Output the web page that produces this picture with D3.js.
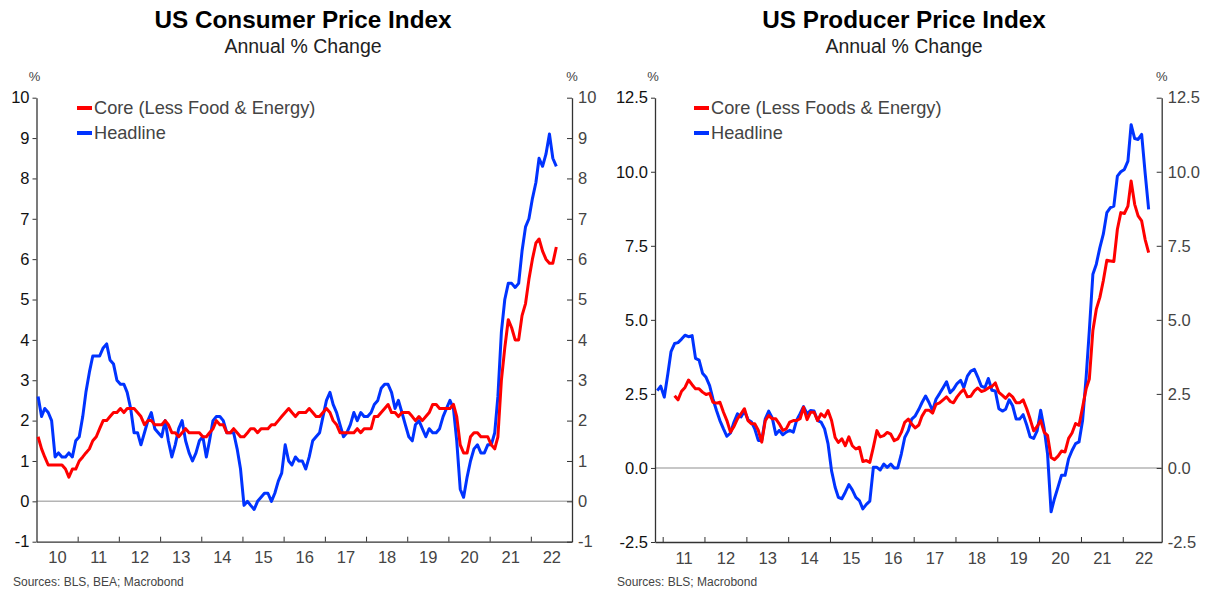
<!DOCTYPE html>
<html>
<head>
<meta charset="utf-8">
<script src="https://cdn.jsdelivr.net/npm/d3@7"></script>
<style>
  body { margin: 0; background: #fff; }
  svg text { font-family: "Liberation Sans", Arial, sans-serif; }
</style>
</head>
<body>
<div id="chart"></div>
<script>
// CPI, monthly yoy %, Jan 2010 - Aug 2022
const cpiStart = "2010-01";
const cpiHeadline = [
  2.6, 2.1, 2.3, 2.2, 2.0, 1.1, 1.2, 1.1, 1.1, 1.2, 1.1, 1.5,
  1.6, 2.1, 2.7, 3.2, 3.6, 3.6, 3.6, 3.8, 3.9, 3.5, 3.4, 3.0,
  2.9, 2.9, 2.7, 2.3, 1.7, 1.7, 1.4, 1.7, 2.0, 2.2, 1.8, 1.7,
  1.6, 2.0, 1.5, 1.1, 1.4, 1.8, 2.0, 1.5, 1.2, 1.0, 1.2, 1.5,
  1.6, 1.1, 1.5, 2.0, 2.1, 2.1, 2.0, 1.7, 1.7, 1.7, 1.3, 0.8,
  -0.1, 0.0, -0.1, -0.2, 0.0, 0.1, 0.2, 0.2, 0.0, 0.2, 0.5, 0.7,
  1.4, 1.0, 0.9, 1.1, 1.0, 1.0, 0.8, 1.1, 1.5, 1.6, 1.7, 2.1,
  2.5, 2.7, 2.4, 2.2, 1.9, 1.6, 1.7, 1.9, 2.2, 2.0, 2.2, 2.1,
  2.1, 2.2, 2.4, 2.5, 2.8, 2.9, 2.9, 2.7, 2.3, 2.5, 2.2, 1.9,
  1.6, 1.5, 1.9, 2.0, 1.8, 1.6, 1.8, 1.7, 1.7, 1.8, 2.1, 2.3,
  2.5, 2.3, 1.5, 0.3, 0.1, 0.6, 1.0, 1.3, 1.4, 1.2, 1.2, 1.4,
  1.4, 1.7, 2.6, 4.2, 5.0, 5.4, 5.4, 5.3, 5.4, 6.2, 6.8, 7.0,
  7.5, 7.9, 8.5, 8.3, 8.6, 9.1, 8.5, 8.3
];
const cpiCore = [
  1.6, 1.3, 1.1, 0.9, 0.9, 0.9, 0.9, 0.9, 0.8, 0.6, 0.8, 0.8,
  1.0, 1.1, 1.2, 1.3, 1.5, 1.6, 1.8, 2.0, 2.0, 2.1, 2.2, 2.2,
  2.3, 2.2, 2.3, 2.3, 2.3, 2.2, 2.1, 1.9, 2.0, 2.0, 1.9, 1.9,
  1.9, 2.0, 1.9, 1.7, 1.7, 1.6, 1.7, 1.8, 1.7, 1.7, 1.7, 1.7,
  1.6, 1.6, 1.7, 1.8, 2.0, 1.9, 1.9, 1.7, 1.7, 1.8, 1.7, 1.6,
  1.6, 1.7, 1.8, 1.8, 1.7, 1.8, 1.8, 1.8, 1.9, 1.9, 2.0, 2.1,
  2.2, 2.3, 2.2, 2.1, 2.2, 2.2, 2.2, 2.3, 2.2, 2.1, 2.1, 2.2,
  2.3, 2.2, 2.0, 1.9, 1.7, 1.7, 1.7, 1.7, 1.7, 1.8, 1.7, 1.8,
  1.8, 1.8, 2.1, 2.1, 2.2, 2.3, 2.4, 2.2, 2.2, 2.1, 2.2, 2.2,
  2.2, 2.1, 2.0, 2.1, 2.0, 2.1, 2.2, 2.4, 2.4, 2.3, 2.3, 2.3,
  2.3, 2.4, 2.1, 1.4, 1.2, 1.2, 1.6, 1.7, 1.7, 1.6, 1.6, 1.6,
  1.4, 1.3, 1.6, 3.0, 3.8, 4.5, 4.3, 4.0, 4.0, 4.6, 4.9, 5.5,
  6.0, 6.4, 6.5, 6.2, 6.0, 5.9, 5.9, 6.3
];

// PPI final demand, monthly yoy %
const ppiHeadlineStart = "2010-11";
const ppiHeadline = [
  2.61, 2.76,
  2.39, 3.17, 3.93, 4.2, 4.23, 4.35, 4.48, 4.43, 4.47, 3.7, 3.64, 3.2,
  3.06, 2.78, 2.33, 1.94, 1.6, 1.32, 1.07, 1.18, 1.55, 1.83, 1.72, 1.92,
  1.63, 1.55, 1.32, 0.93, 0.93, 1.66, 1.92, 1.69, 1.13, 1.27, 1.12, 1.21,
  1.27, 1.21, 1.6, 1.83, 2.07, 1.83, 1.94, 1.92, 1.6, 1.55, 1.32, 0.82,
  -0.1, -0.65, -0.99, -1.04, -0.82, -0.56, -0.74, -0.99, -1.1, -1.38, -1.23, -1.12,
  0.02, 0.02, -0.07, 0.13, 0.02, 0.13, 0.0, 0.0, 0.47, 1.03, 1.26, 1.65,
  1.76, 1.98, 2.21, 2.43, 2.21, 1.93, 2.32, 2.51, 2.71, 2.91, 2.54, 2.66,
  2.85, 2.96, 2.71, 3.1, 3.27, 3.33, 3.07, 2.76, 2.71, 3.02, 2.62, 2.6,
  2.0, 1.92, 1.98, 2.3, 2.1, 1.65, 1.65, 1.8, 1.45, 1.05, 1.0, 1.25,
  1.95, 1.32, 0.48, -1.48, -1.03, -0.64, -0.25, -0.25, 0.31, 0.59, 0.82, 0.88,
  1.6, 3.06, 4.64, 6.54, 6.88, 7.44, 7.89, 8.62, 8.79, 8.84, 9.85, 10.0,
  10.08, 10.36, 11.59, 11.12, 11.09, 11.26, 9.97, 8.73
];
const ppiCoreStart = "2011-04";
const ppiCore = [
  2.44, 2.3, 2.59, 2.72, 2.97, 2.81, 2.67, 2.67, 2.56,
  2.48, 2.52, 2.22, 2.19, 2.22, 1.88, 1.6, 1.21, 1.4, 1.66, 1.83, 2.0,
  1.6, 1.49, 1.49, 1.27, 0.87, 1.6, 1.77, 1.66, 1.66, 1.49, 1.27, 1.32,
  1.55, 1.6, 1.6, 1.66, 2.05, 1.63, 1.88, 1.88, 1.6, 1.83, 1.72, 1.94,
  1.6, 1.03, 0.86, 0.98, 0.75, 1.05, 0.75, 0.64, 0.7, 0.22, 0.25, 0.19,
  0.7, 1.26, 1.05, 1.09, 1.2, 1.14, 0.92, 0.98, 1.2, 1.54, 1.65, 1.48,
  1.35, 1.45, 1.75, 1.95, 1.95, 1.85, 2.15, 2.2, 2.3, 2.4, 2.25, 2.2,
  2.4, 2.55, 2.65, 2.4, 2.42, 2.6, 2.7, 2.58, 2.62, 2.7, 2.75, 2.87,
  2.55, 2.45, 2.35, 2.5, 2.4, 2.2, 2.2, 2.3, 2.0, 1.65, 1.25, 1.4,
  1.6, 1.2, 1.1, 0.35, 0.28, 0.4, 0.57, 0.54, 1.0, 1.18, 1.5, 1.44,
  2.05, 2.67, 3.0, 4.64, 5.36, 5.76, 6.32, 7.01, 6.99, 6.97, 8.06, 8.62,
  8.59, 8.84, 9.69, 8.9, 8.51, 8.34, 7.72, 7.27
];

const cpiTicks = [-1, 0, 1, 2, 3, 4, 5, 6, 7, 8, 9, 10];
const ppiTicks = [-2.5, 0, 2.5, 5, 7.5, 10, 12.5];
const seriesNames = ["Core (Less Food & Energy)", "Headline"];
const ppiSeriesNames = ["Core (Less Foods & Energy)", "Headline"];

const RED = "#ff0000", BLUE = "#0033ff";

// monthly points plotted at mid-month
const parseM = d3.timeParse("%Y-%m");
function toSeries(start, values) {
  const s = parseM(start);
  return values.map((v, i) => ({date: d3.timeDay.offset(d3.timeMonth.offset(s, i), 14), value: v}));
}
// plain hyphen for negatives, like the original
const hyphen = f => (d => f(d).replace("\u2212", "-"));

const svg = d3.select("#chart").append("svg")
  .attr("width", 1210).attr("height", 590);

function panel(cfg) {
  const g = svg.append("g");
  const x = d3.scaleTime().domain(cfg.xDomain).range([cfg.left, cfg.right]);
  const y = d3.scaleLinear().domain(cfg.yDomain).range([cfg.bottom, cfg.top]);

  // titles
  g.append("text").attr("x", cfg.titleX).attr("y", 28)
    .attr("text-anchor", "middle").attr("font-size", 24.3).attr("font-weight", "bold")
    .attr("fill", "#000").text(cfg.title);
  g.append("text").attr("x", cfg.titleX).attr("y", 53)
    .attr("text-anchor", "middle").attr("font-size", 19.5).attr("fill", "#222")
    .text("Annual % Change");

  // % labels
  g.append("text").attr("x", cfg.left - 2).attr("y", 81).attr("text-anchor", "middle")
    .attr("font-size", 13).attr("fill", "#444").text("%");
  g.append("text").attr("x", cfg.right).attr("y", 81).attr("text-anchor", "middle")
    .attr("font-size", 13).attr("fill", "#444").text("%");

  // zero line
  g.append("line").attr("x1", cfg.left).attr("x2", cfg.right)
    .attr("y1", y(0)).attr("y2", y(0))
    .attr("stroke", "#b4b4b4").attr("stroke-width", 1.5);

  // left y axis
  const yl = g.append("g").attr("transform", `translate(${cfg.left},0)`)
    .call(d3.axisLeft(y).tickValues(cfg.yTicks).tickFormat(hyphen(cfg.fmt)).tickSizeInner(4).tickSizeOuter(0).tickPadding(3));
  yl.select(".domain").attr("stroke", "#333").attr("stroke-width", 1.3);
  yl.selectAll(".tick line").attr("stroke", "#333");
  yl.selectAll("text").attr("font-size", 16.5).attr("fill", "#111")
    .style("font-family", "Liberation Sans, Arial, sans-serif");

  // right y axis, ticks pointing inward
  const yr = g.append("g").attr("transform", `translate(${cfg.right},0)`)
    .call(d3.axisRight(y).tickValues(cfg.yTicks).tickFormat(hyphen(cfg.fmt)).tickSizeInner(-5).tickSizeOuter(0).tickPadding(6));
  yr.select(".domain").attr("stroke", "#333").attr("stroke-width", 1.3);
  yr.selectAll(".tick line").attr("stroke", "#333");
  yr.selectAll("text").attr("font-size", 16.5).attr("fill", "#444")
    .style("font-family", "Liberation Sans, Arial, sans-serif");

  // x axis: year boundary ticks pointing up, labels mid-year
  const years = d3.range(cfg.firstYear, 2023);
  const bounds = years.map(yy => new Date(yy, 0, 1)).filter(d => x(d) > cfg.left + 1 && x(d) < cfg.right - 1);
  const xb = g.append("g").attr("transform", `translate(0,${cfg.bottom})`)
    .call(d3.axisBottom(x).tickValues(bounds).tickFormat("").tickSizeInner(-5).tickSizeOuter(0));
  xb.select(".domain").attr("stroke", "#333").attr("stroke-width", 1.3);
  xb.selectAll(".tick line").attr("stroke", "#333");
  const xl = g.append("g").attr("transform", `translate(0,${cfg.bottom})`)
    .call(d3.axisBottom(x).tickValues(years.map(yy => new Date(yy, 6, 2)))
      .tickFormat(d3.timeFormat("%y")).tickSize(0).tickPadding(10));
  xl.select(".domain").remove();
  xl.selectAll("text").attr("font-size", 16.5).attr("fill", "#444")
    .style("font-family", "Liberation Sans, Arial, sans-serif");

  // lines
  const line = d3.line().x(d => x(d.date)).y(d => y(d.value));
  g.append("path").datum(cfg.headline).attr("d", line)
    .attr("fill", "none").attr("stroke", BLUE).attr("stroke-width", 3).attr("stroke-linejoin", "round");
  g.append("path").datum(cfg.core).attr("d", line)
    .attr("fill", "none").attr("stroke", RED).attr("stroke-width", 3).attr("stroke-linejoin", "round");

  // legend
  const legend = [{name: cfg.names[0], color: RED}, {name: cfg.names[1], color: BLUE}];
  legend.forEach((d, i) => {
    const ly = 108 + i * 25;
    g.append("rect").attr("x", cfg.legendX).attr("y", ly - 2).attr("width", 15).attr("height", 4)
      .attr("fill", d.color);
    g.append("text").attr("x", cfg.legendX + 17).attr("y", ly + 6)
      .attr("font-size", 18.2).attr("fill", "#444").text(d.name);
  });

  g.append("text").attr("x", cfg.sourceX).attr("y", 586)
    .attr("font-size", 12).attr("fill", "#444").text(cfg.source);
}

panel({
  title: "US Consumer Price Index", titleX: 303,
  xDomain: [new Date(2010, 0, 1), new Date(2023, 0, 1)], firstYear: 2010,
  left: 36.5, right: 572, top: 97.7, bottom: 541.7,
  yDomain: [-1, 10], yTicks: cpiTicks, fmt: d3.format("d"),
  headline: toSeries(cpiStart, cpiHeadline), core: toSeries(cpiStart, cpiCore),
  names: seriesNames, legendX: 77, sourceX: 13, source: "Sources: BLS, BEA; Macrobond"
});

panel({
  title: "US Producer Price Index", titleX: 904,
  xDomain: [new Date(2010, 9, 26), new Date(2022, 11, 7)], firstYear: 2011,
  left: 655, right: 1161.7, top: 97.7, bottom: 542,
  yDomain: [-2.5, 12.5], yTicks: ppiTicks, fmt: d3.format(".1f"),
  headline: toSeries(ppiHeadlineStart, ppiHeadline), core: toSeries(ppiCoreStart, ppiCore),
  names: ppiSeriesNames, legendX: 694, sourceX: 617, source: "Sources: BLS; Macrobond"
});
</script>
</body>
</html>
